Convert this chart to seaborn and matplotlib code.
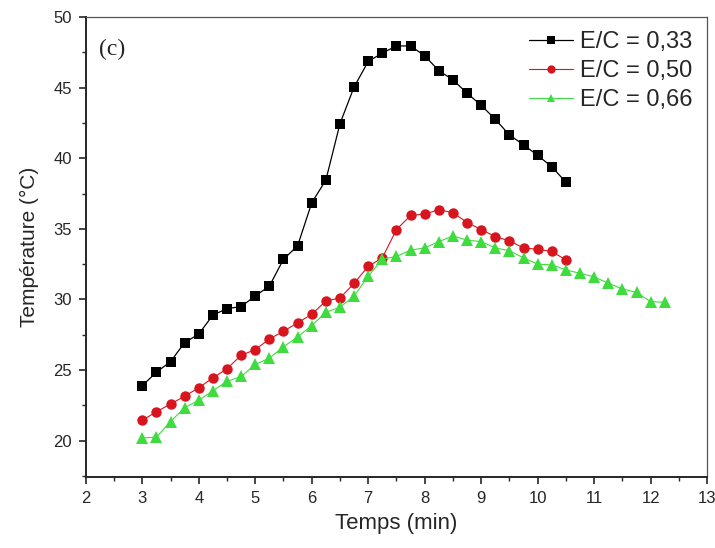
import matplotlib
matplotlib.use("Agg")
import matplotlib.pyplot as plt
import seaborn as sns
import numpy as np
from matplotlib.ticker import MultipleLocator

# temps (min), pas de 0.25
t_033 = [3.0, 3.25, 3.5, 3.75, 4.0, 4.25, 4.5, 4.75, 5.0, 5.25, 5.5, 5.75, 6.0, 6.25, 6.5, 6.75,
         7.0, 7.25, 7.5, 7.75, 8.0, 8.25, 8.5, 8.75, 9.0, 9.25, 9.5, 9.75, 10.0, 10.25, 10.5]
T_033 = [23.9, 24.85, 25.6, 26.95, 27.55, 28.9, 29.35, 29.5, 30.25, 30.95, 32.85, 33.8, 36.85, 38.45,
         42.45, 45.05, 46.85, 47.45, 47.95, 47.95, 47.25, 46.2, 45.55, 44.6, 43.75, 42.75, 41.65,
         40.95, 40.2, 39.4, 38.3]

t_050 = t_033
T_050 = [21.45, 22.05, 22.6, 23.15, 23.75, 24.45, 25.1, 26.05, 26.45, 27.2, 27.75, 28.35, 28.95,
         29.9, 30.1, 31.15, 32.35, 32.95, 34.95, 35.95, 36.05, 36.35, 36.15, 35.45, 34.95, 34.45,
         34.15, 33.65, 33.55, 33.4, 32.8]

t_066 = [3.0, 3.25, 3.5, 3.75, 4.0, 4.25, 4.5, 4.75, 5.0, 5.25, 5.5, 5.75, 6.0, 6.25, 6.5, 6.75,
         7.0, 7.25, 7.5, 7.75, 8.0, 8.25, 8.5, 8.75, 9.0, 9.25, 9.5, 9.75, 10.0, 10.25, 10.5,
         10.75, 11.0, 11.25, 11.5, 11.75, 12.0, 12.25]
T_066 = [20.2, 20.25, 21.35, 22.35, 22.85, 23.55, 24.2, 24.55, 25.4, 25.85, 26.65, 27.35, 28.15,
         29.1, 29.45, 30.25, 31.65, 32.85, 33.05, 33.5, 33.65, 34.1, 34.5, 34.2, 34.1, 33.65, 33.45,
         32.95, 32.5, 32.45, 32.1, 31.85, 31.6, 31.15, 30.75, 30.5, 29.85, 29.8]

labels = ["E/C = 0,33", "E/C = 0,50", "E/C = 0,66"]

sns.set_style("ticks")
plt.rcParams['font.family'] = ['Liberation Sans', 'DejaVu Sans']

fig = plt.figure(figsize=(7.15, 5.48), dpi=100)
ax = fig.add_axes([0.120, 0.130, 0.869, 0.839])

sns.lineplot(x=t_033, y=T_033, ax=ax, color="black", marker="s", markersize=7,
             markeredgewidth=0, linewidth=0.9, label=labels[0])
sns.lineplot(x=t_050, y=T_050, ax=ax, color="#d8141e", marker="o", markersize=7.5,
             markeredgewidth=0, linewidth=0.8, label=labels[1])
sns.lineplot(x=t_066, y=T_066, ax=ax, color="#3edc3e", marker="^", markersize=8,
             markeredgewidth=0, linewidth=0.8, label=labels[2])

ax.set_xlim(2, 13)
ax.set_ylim(17.45, 50)
ax.xaxis.set_major_locator(MultipleLocator(1))
ax.xaxis.set_minor_locator(MultipleLocator(0.5))
ax.yaxis.set_major_locator(MultipleLocator(5))
ax.yaxis.set_minor_locator(MultipleLocator(2.5))
ax.set_yticks([20, 25, 30, 35, 40, 45, 50])
ax.tick_params(which="major", direction="out", length=5, width=1.2, labelsize=12, pad=5)
ax.tick_params(which="minor", direction="out", length=3, width=1.0)
ax.tick_params(top=False, right=False)

for s in ["left", "bottom"]:
    ax.spines[s].set_linewidth(1.4)
for s in ["top", "right"]:
    ax.spines[s].set_linewidth(0.9)
    ax.spines[s].set_color("#555555")

ax.set_xlabel("Temps (min)", fontsize=16, labelpad=5)
ax.set_ylabel("Température (°C)", fontsize=15, labelpad=10)

ax.text(0.022, 0.93, "(c)", transform=ax.transAxes, fontsize=17,
        family="Liberation Serif", va="center")

leg = ax.legend(loc="upper right", frameon=False, fontsize=17, handlelength=1.9,
                handletextpad=0.3, labelspacing=0.3, borderaxespad=0.2, markerscale=0.8)

fig.savefig("out.png", dpi=100)
